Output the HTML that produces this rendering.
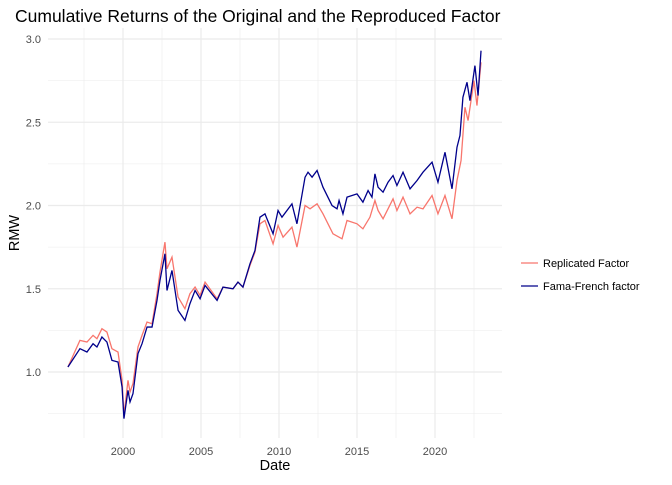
<!DOCTYPE html>
<html><head><meta charset="utf-8"><style>
body{margin:0;background:#fff;font-family:"Liberation Sans",sans-serif;}
svg text{font-family:"Liberation Sans",sans-serif;}
</style></head><body>
<svg id="chart" width="672" height="480">
<text x="15" y="22" font-size="17.5" fill="#000">Cumulative Returns of the Original and the Reproduced Factor</text>
<g id="grid"></g>
<g id="yticks"></g>
<g id="xticks"></g>
<g id="series"></g>
<text x="275" y="470" font-size="14.5" text-anchor="middle">Date</text>
<text transform="translate(19,233) rotate(-90)" font-size="14.5" text-anchor="middle">RMW</text>
<g>
<line x1="521" y1="263" x2="538" y2="263" stroke="#F8766D" stroke-width="1.3"/>
<text x="543" y="267" font-size="11" fill="#000">Replicated Factor</text>
<line x1="521" y1="286" x2="538" y2="286" stroke="#00008B" stroke-width="1.3"/>
<text x="543" y="290" font-size="11" fill="#000">Fama-French factor</text>
</g>
</svg>
<script>
const xTicks=[2000,2005,2010,2015,2020];
const yTicks=[1.0,1.5,2.0,2.5,3.0];
const ffDates=[1996.47,1997.24,1997.69,1998.08,1998.33,1998.65,1998.97,1999.29,1999.68,1999.94,2000.06,2000.32,2000.45,2000.64,2000.96,2001.22,2001.54,2001.86,2002.18,2002.37,2002.69,2002.82,2003.14,2003.53,2003.97,2004.29,2004.62,2004.94,2005.26,2006.03,2006.41,2007.05,2007.37,2007.69,2008.14,2008.46,2008.78,2009.10,2009.62,2009.94,2010.19,2010.83,2011.15,2011.67,2011.86,2012.12,2012.44,2012.82,2013.40,2013.72,2013.85,2014.10,2014.36,2015.00,2015.38,2015.71,2015.96,2016.15,2016.35,2016.67,2016.99,2017.31,2017.56,2017.95,2018.40,2018.85,2019.23,2019.81,2020.19,2020.64,2021.09,2021.41,2021.60,2021.79,2022.05,2022.24,2022.56,2022.76,2022.95];
const ffValues=[1.03,1.14,1.12,1.17,1.15,1.21,1.18,1.07,1.06,0.91,0.72,0.89,0.82,0.87,1.11,1.17,1.27,1.27,1.43,1.55,1.71,1.49,1.61,1.37,1.31,1.41,1.49,1.44,1.52,1.43,1.51,1.50,1.54,1.51,1.65,1.73,1.93,1.95,1.83,1.97,1.93,2.01,1.89,2.17,2.20,2.17,2.21,2.11,2.00,1.98,2.03,1.95,2.05,2.07,2.02,2.09,2.05,2.19,2.11,2.08,2.14,2.18,2.12,2.20,2.10,2.15,2.20,2.26,2.14,2.32,2.10,2.35,2.42,2.65,2.74,2.63,2.84,2.66,2.93];
const repDates=[1996.47,1997.24,1997.69,1998.08,1998.33,1998.65,1998.97,1999.29,1999.68,1999.94,2000.06,2000.32,2000.45,2000.64,2000.96,2001.22,2001.54,2001.86,2002.18,2002.37,2002.69,2002.82,2003.14,2003.53,2003.97,2004.29,2004.62,2004.94,2005.26,2006.03,2006.41,2007.05,2007.37,2007.69,2008.14,2008.46,2008.78,2009.10,2009.62,2009.94,2010.26,2010.83,2011.15,2011.67,2011.99,2012.44,2012.82,2013.46,2014.04,2014.36,2015.00,2015.38,2015.83,2016.15,2016.35,2016.67,2016.99,2017.31,2017.56,2017.95,2018.40,2018.85,2019.23,2019.81,2020.19,2020.64,2021.09,2021.41,2021.67,2021.92,2022.12,2022.50,2022.69,2022.95];
const repValues=[1.03,1.19,1.18,1.22,1.20,1.26,1.24,1.14,1.12,0.95,0.74,0.95,0.88,0.93,1.15,1.22,1.30,1.29,1.47,1.60,1.78,1.62,1.69,1.45,1.38,1.47,1.51,1.46,1.54,1.44,1.51,1.50,1.54,1.51,1.64,1.72,1.89,1.91,1.77,1.88,1.81,1.87,1.75,2.00,1.98,2.01,1.95,1.83,1.80,1.91,1.89,1.86,1.93,2.03,1.97,1.92,1.98,2.04,1.97,2.05,1.95,1.99,1.98,2.06,1.95,2.06,1.92,2.15,2.27,2.59,2.51,2.75,2.60,2.86];
const NS="http://www.w3.org/2000/svg";
const X=d=>123+(d-2000)*15.6;
const Y=v=>372-(v-1)*166.5;
const L=48,R=502,T=28,B=438;
function mk(tag,attrs,parent){const e=document.createElementNS(NS,tag);for(const k in attrs)e.setAttribute(k,attrs[k]);parent.appendChild(e);return e;}
const grid=document.getElementById('grid');
for(let d=1997.5;d<=2022.5;d+=5){const l=mk('line',{x1:X(d),x2:X(d),y1:T,y2:B,stroke:'#ebebeb','stroke-width':0.6},grid);

}
for(let v=0.75;v<=2.8;v+=0.5){const l=mk('line',{x1:L,x2:R,y1:Y(v),y2:Y(v),stroke:'#ebebeb','stroke-width':0.6},grid);

}
xTicks.forEach(d=>{const l=mk('line',{x1:X(d),x2:X(d),y1:T,y2:B,stroke:'#ebebeb','stroke-width':1.2},grid);


const t=mk('text',{x:X(d),y:455,'font-size':11,'text-anchor':'middle',fill:'#4d4d4d'},document.getElementById('xticks'));t.textContent=d;

});
yTicks.forEach(v=>{const l=mk('line',{x1:L,x2:R,y1:Y(v),y2:Y(v),stroke:'#ebebeb','stroke-width':1.2},grid);


const t=mk('text',{x:41,y:Y(v)+4,'font-size':11,'text-anchor':'end',fill:'#4d4d4d'},document.getElementById('yticks'));t.textContent=v.toFixed(1);

});
const ser=document.getElementById('series');
const p1=mk('polyline',{points:repDates.map((d,i)=>X(d)+','+Y(repValues[i])).join(' '),fill:'none',stroke:'#F8766D','stroke-width':1.3},ser);


const p2=mk('polyline',{points:ffDates.map((d,i)=>X(d)+','+Y(ffValues[i])).join(' '),fill:'none',stroke:'#00008B','stroke-width':1.3},ser);


</script>
</body></html>
